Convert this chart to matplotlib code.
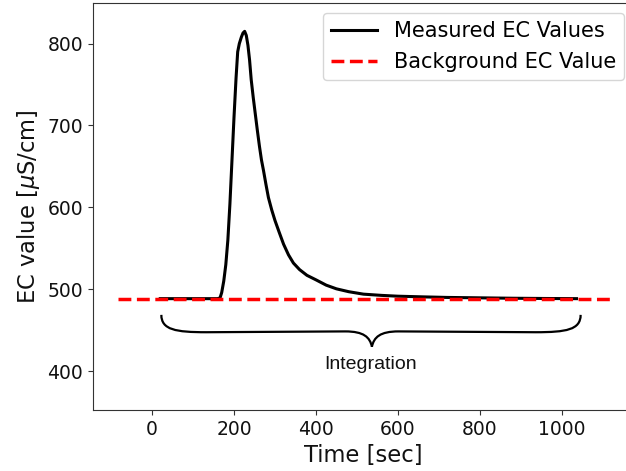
import matplotlib
matplotlib.use("Agg")
import matplotlib.pyplot as plt
from matplotlib.path import Path
from matplotlib.patches import PathPatch

# --- data ---
time_s = [20, 100, 160, 166, 170, 175, 180, 185, 190, 195, 200, 205, 209, 213, 218,
          222, 226, 230, 234, 238, 242, 247, 252, 257, 262, 267, 272, 278, 284, 292,
          300, 310, 321, 333, 345, 360, 378, 400, 425, 450, 480, 516, 560, 600, 660,
          720, 800, 880, 960, 1036]
ec_values = [488.5, 488.5, 488.5, 489.5, 496, 510, 530, 560, 604, 657, 710, 758, 790, 800, 808,
             813, 815, 810, 798, 780, 756, 734, 714, 694, 675, 658, 645, 628, 612, 597,
             584, 570, 555, 542, 532, 524, 517, 511.5, 505, 500.5, 497, 494, 492.5, 491.5, 490.7,
             490, 489.5, 489, 488.7, 488.5]
background_ec = 488.3
background_span = [-84, 1118]

# brace annotation anchors (time, EC)
brace_x = [22.7, 1046]
brace_tip_x = 536.6
brace_top_y = 468.7
brace_mid_y = 447.5
brace_tip_y = 429.8
label_text = "Integration"

x_ticks = [0, 200, 400, 600, 800, 1000]
y_ticks = [400, 500, 600, 700, 800]

fig = plt.figure(figsize=(6.26, 4.71), dpi=100)
ax = fig.add_axes([0.148, 0.1295, 1.0139 - 0.148, 0.9943 - 0.1295])

ax.plot(time_s, ec_values, color="black", lw=2.2, label="Measured EC Values", zorder=2,
        solid_joinstyle="round")
ax.hlines(background_ec, background_span[0], background_span[1], colors="red",
          linestyles="--", lw=2.5, label="Background EC Value", zorder=3)

# brace
x0, x1 = brace_x
xm = brace_tip_x
verts = [
    (x0, brace_top_y),
    (x0, brace_mid_y + 3), (x0 + 35, brace_mid_y), (x0 + 110, brace_mid_y),
    (xm - 65, brace_mid_y + 1),
    (xm - 20, brace_mid_y + 1), (xm - 5, brace_mid_y - 6), (xm, brace_tip_y),
    (xm + 5, brace_mid_y - 6), (xm + 20, brace_mid_y + 1), (xm + 65, brace_mid_y + 1),
    (x1 - 110, brace_mid_y),
    (x1 - 35, brace_mid_y), (x1, brace_mid_y + 3), (x1, brace_top_y),
]
codes = [Path.MOVETO,
         Path.CURVE4, Path.CURVE4, Path.CURVE4,
         Path.LINETO,
         Path.CURVE4, Path.CURVE4, Path.CURVE4,
         Path.CURVE4, Path.CURVE4, Path.CURVE4,
         Path.LINETO,
         Path.CURVE4, Path.CURVE4, Path.CURVE4]
ax.add_patch(PathPatch(Path(verts, codes), facecolor="none", edgecolor="black", lw=1.6))
ax.text(xm - 4, 407.7, label_text, ha="center", va="center",
        fontsize=14, family="Liberation Sans", color="#111111")

ax.set_xlim(-145, 1178)
ax.set_ylim(352.5, 850)
ax.set_xticks(x_ticks)
ax.set_yticks(y_ticks)
ax.tick_params(labelsize=13.5, color="#333333", labelcolor="#111111")
for s in ax.spines.values():
    s.set_color("#333333")
ax.spines["right"].set_visible(False)
ax.set_xlabel("Time [sec]", fontsize=16.3, color="#111111")
ax.set_ylabel(r"EC value [$\mu$S/cm]", fontsize=16.3, color="#111111")

ax.legend(loc="upper right", fontsize=15, handlelength=2.2)

fig.savefig("out.png", dpi=100)
